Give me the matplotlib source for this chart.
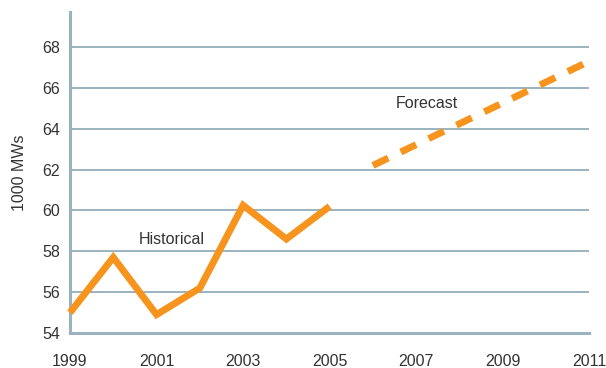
import matplotlib
matplotlib.use("Agg")
import matplotlib.pyplot as plt

hist_years = [1999, 2000, 2001, 2002, 2003, 2004, 2005]
hist_values = [55.0, 57.7, 54.9, 56.2, 60.25, 58.6, 60.2]
fc_years = [2006, 2011]
fc_values = [62.2, 67.3]
x_ticks = [1999, 2001, 2003, 2005, 2007, 2009, 2011]
y_ticks = [54, 56, 58, 60, 62, 64, 66, 68]

orange = "#F7941D"
grid_c = "#9AB3BF"
text_c = "#333333"

plt.rcParams["font.family"] = ["Liberation Sans", "DejaVu Sans"]

fig = plt.figure(figsize=(6.06, 3.68), dpi=100)
ax = fig.add_axes([0.1155, 0.095, 0.857, 0.872])

ax.set_xlim(1999, 2011)
ax.set_ylim(54, 69.7)

for y in y_ticks[1:]:
    ax.axhline(y, color=grid_c, lw=1.4, zorder=1)

ax.plot(hist_years, hist_values, color=orange, lw=5, solid_joinstyle="miter",
        solid_capstyle="butt", zorder=3, clip_on=False)
ax.plot(fc_years, fc_values, color=orange, lw=5, dashes=(2.45, 2.0),
        dash_capstyle="butt", zorder=3, clip_on=False)

ax.text(2001.35, 58.6, "Historical", ha="center", va="center", fontsize=11.5, color=text_c)
ax.text(2007.25, 65.25, "Forecast", ha="center", va="center", fontsize=11.5, color=text_c)

for s in ["top", "right"]:
    ax.spines[s].set_visible(False)
for s in ["left", "bottom"]:
    ax.spines[s].set_color(grid_c)
    ax.spines[s].set_linewidth(2.2)

ax.set_xticks(x_ticks)
ax.set_yticks(y_ticks)
ax.tick_params(axis="both", length=0, labelsize=11.5, labelcolor=text_c)
ax.tick_params(axis="x", pad=15)
ax.tick_params(axis="y", pad=7)
ax.set_ylabel("1000 MWs", fontsize=11.5, color=text_c, labelpad=11)

fig.savefig("out.png", dpi=100)
